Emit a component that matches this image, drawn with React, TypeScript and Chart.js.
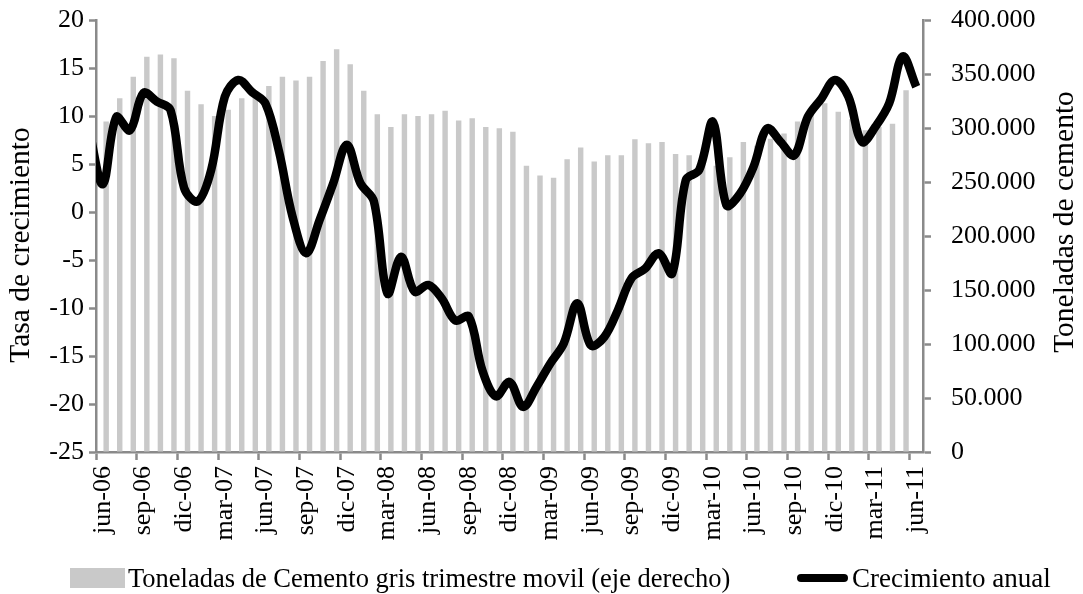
import { useEffect, useRef } from 'react';
import { Chart, registerables } from 'chart.js';

Chart.register(...registerables);

const FONT = '"Liberation Serif", "Times New Roman", serif';
const GRAY = '#8a8a8a';
const BAR_COLOR = '#c9c9c9';

// Categories shown on the x axis (monthly, jun-06 .. jun-11)
const categories = [
  'jun-06', 'jul-06', 'ago-06', 'sep-06', 'oct-06', 'nov-06', 'dic-06',
  'ene-07', 'feb-07', 'mar-07', 'abr-07', 'may-07', 'jun-07', 'jul-07', 'ago-07', 'sep-07', 'oct-07', 'nov-07', 'dic-07',
  'ene-08', 'feb-08', 'mar-08', 'abr-08', 'may-08', 'jun-08', 'jul-08', 'ago-08', 'sep-08', 'oct-08', 'nov-08', 'dic-08',
  'ene-09', 'feb-09', 'mar-09', 'abr-09', 'may-09', 'jun-09', 'jul-09', 'ago-09', 'sep-09', 'oct-09', 'nov-09', 'dic-09',
  'ene-10', 'feb-10', 'mar-10', 'abr-10', 'may-10', 'jun-10', 'jul-10', 'ago-10', 'sep-10', 'oct-10', 'nov-10', 'dic-10',
  'ene-11', 'feb-11', 'mar-11', 'abr-11', 'may-11', 'jun-11',
];

// Toneladas de cemento gris, trimestre móvil (right axis), one per category
const tonnes = [
  306000, 327500, 347500, 366000, 368000, 364500, 334600, 322000, 311000, 317000,
  327500, 333000, 339000, 347500, 344000, 347500, 362000, 373000, 359000, 334600,
  312700, 301000, 312700, 311000, 312700, 316000, 307000, 309000, 301000, 299700,
  296600, 265000, 256000, 254000, 271000, 282000, 269000, 274700, 274700, 289500,
  285800, 287000, 276000, 274700, 278000, 265000, 273000, 287000, 283600, 290000,
  295000, 306000, 318000, 323000, 315000, 308000, 298000, 301000, 304000, 335000,
  null,
];

// Crecimiento anual (left axis). First value is may-06 (just before the axis start, clipped)
const growthMonths = ['may-06', ...categories];
const growth = [
  8.5, 2.9, 9.9, 8.5, 12.4, 11.5, 10.6, 2.5, 1.1, 4.4,
  12.0, 13.75, 12.5, 11.3, 6.3, -0.5, -4.3, -0.8, 3.0, 7.0,
  3.0, 1.1, -8.5, -4.65, -8.3, -7.6, -9.0, -11.3, -10.9, -16.5,
  -19.2, -17.7, -20.3, -18.2, -15.8, -13.7, -9.5, -13.9, -13.0, -10.2,
  -6.9, -5.9, -4.3, -6.4, 3.3, 4.4, 9.4, 0.7, 1.9, 4.7,
  8.7, 7.3, 5.9, 9.9, 11.8, 13.75, 12.0, 7.3, 8.9, 11.3,
  16.2, 13.05,
];

const leftTicks = { min: -25, max: 20, step: 5 };
const rightTicks = { min: 0, max: 400000, step: 50000 };

const barLabel = 'Toneladas de Cemento gris trimestre movil (eje derecho)';
const lineLabel = 'Crecimiento anual';
const leftTitle = 'Tasa de crecimiento';
const rightTitle = 'Toneladas de cemento';

const fmtThousands = (v: number) =>
  String(Math.round(v)).replace(/\B(?=(\d{3})+(?!\d))/g, '.');

const titlesPlugin = {
  id: 'axisTitles',
  afterDraw(chart: any) {
    const { ctx } = chart;
    ctx.save();
    ctx.fillStyle = '#000';
    ctx.font = `29.5px ${FONT}`;
    ctx.textAlign = 'center';
    ctx.textBaseline = 'middle';
    ctx.save();
    ctx.translate(21, 245);
    ctx.rotate(-Math.PI / 2);
    ctx.fillText(leftTitle, 0, 0);
    ctx.restore();
    ctx.save();
    ctx.translate(1065, 222);
    ctx.rotate(-Math.PI / 2);
    ctx.fillText(rightTitle, 0, 0);
    ctx.restore();
    ctx.restore();
  },
};

export default function App() {
  const ref = useRef<HTMLCanvasElement>(null);

  useEffect(() => {
    const tickFont = { family: FONT, size: 26 };
    const chart = new Chart(ref.current as HTMLCanvasElement, {
      data: {
        labels: categories,
        datasets: [
          {
            type: 'line',
            label: lineLabel,
            data: growth.map((v, i) => ({ x: growthMonths.indexOf(growthMonths[i]) - 1, y: v })),
            xAxisID: 'x2',
            yAxisID: 'y',
            borderColor: '#000',
            borderWidth: 8.5,
            pointRadius: 0,
            tension: 0.35,
            clip: 0,
            order: 0,
            borderJoinStyle: 'round',
          } as any,
          {
            type: 'bar',
            label: barLabel,
            data: tonnes,
            xAxisID: 'x',
            yAxisID: 'y1',
            backgroundColor: BAR_COLOR,
            barPercentage: 0.8,
            categoryPercentage: 1,
            order: 1,
          } as any,
        ],
      },
      options: {
        animation: false,
        responsive: true,
        maintainAspectRatio: false,
        layout: { padding: { top: 20, left: 0, right: 0, bottom: 0 } },
        plugins: { legend: { display: false }, tooltip: { enabled: false } },
        scales: {
          x: {
            type: 'category',
            offset: true,
            grid: {
              drawOnChartArea: false,
              offset: true,
              tickLength: 8,
              tickWidth: 2.5,
              tickColor: (c: any) => (c.index % 3 === 0 ? GRAY : 'rgba(0,0,0,0)'),
            },
            border: { color: GRAY, width: 2.5 },
            ticks: {
              autoSkip: false,
              maxRotation: 90,
              minRotation: 90,
              padding: 6,
              color: '#000',
              font: tickFont,
              callback: (_v: any, i: number) => (i % 3 === 0 ? categories[i] : ''),
            },
            afterFit: (s: any) => {
              s.height = 142;
              s.paddingLeft = 0;
              s.paddingRight = 0;
            },
          },
          x2: {
            type: 'linear',
            display: false,
            position: 'bottom',
            min: -0.5,
            max: categories.length - 0.5,
          },
          y: {
            type: 'linear',
            position: 'left',
            min: leftTicks.min,
            max: leftTicks.max,
            ticks: { stepSize: leftTicks.step, padding: 5, color: '#000', font: tickFont },
            grid: { drawOnChartArea: false, tickLength: 7, tickWidth: 2.5, tickColor: GRAY },
            border: { color: GRAY, width: 2.5 },
            afterFit: (s: any) => {
              s.width = 96;
              s.paddingTop = 0;
              s.paddingBottom = 0;
            },
          },
          y1: {
            type: 'linear',
            position: 'right',
            min: rightTicks.min,
            max: rightTicks.max,
            ticks: {
              stepSize: rightTicks.step,
              padding: 20,
              color: '#000',
              font: tickFont,
              callback: (v: any) => fmtThousands(Number(v)),
            },
            grid: { drawOnChartArea: false, tickLength: 8, tickWidth: 2.5, tickColor: GRAY },
            border: { color: GRAY, width: 2.5 },
            afterFit: (s: any) => {
              s.width = 160;
              s.paddingTop = 0;
              s.paddingBottom = 0;
            },
          },
        },
      } as any,
      plugins: [titlesPlugin],
    });
    return () => chart.destroy();
  }, []);

  const textStyle: any = {
    position: 'absolute',
    top: 565,
    fontFamily: FONT,
    fontSize: 26.5,
    lineHeight: '26px',
    color: '#000',
    whiteSpace: 'nowrap',
  };

  return (
    <div style={{ position: 'fixed', left: 0, top: 0, width: 1083, height: 594, background: '#fff' }}>
      <canvas ref={ref} style={{ position: 'absolute', left: 0, top: 0, width: 1083, height: 594 }} />
      <div style={{ position: 'absolute', left: 70, top: 568, width: 55, height: 20, background: BAR_COLOR }} />
      <span style={{ ...textStyle, left: 128 }}>{barLabel}</span>
      <div style={{ position: 'absolute', left: 797, top: 574, width: 51, height: 8, background: '#000', borderRadius: 4 }} />
      <span style={{ ...textStyle, left: 852, fontSize: 27 }}>{lineLabel}</span>
    </div>
  );
}
